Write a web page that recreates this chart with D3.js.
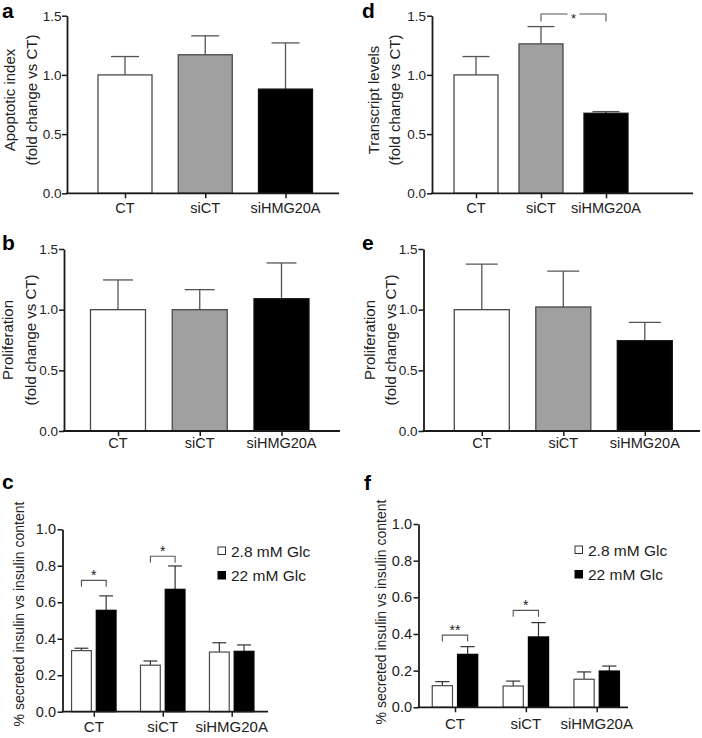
<!DOCTYPE html>
<html>
<head>
<meta charset="utf-8">
<script src="https://cdn.jsdelivr.net/npm/d3@7"></script>
<style>
  html, body { margin: 0; padding: 0; background: #fff; }
  svg { display: block; font-family: "Liberation Sans", Arial, Helvetica, sans-serif; }
</style>
</head>
<body>
<svg id="chart" width="702" height="738"></svg>
<script>
// ---------------- DATA ----------------
const categories = ["CT", "siCT", "siHMG20A"];
const foldTicks = [0, 0.5, 1.0, 1.5];
const insulinTicks = [0, 0.2, 0.4, 0.6, 0.8, 1.0];
const glcLabels = ["2.8 mM Glc", "22 mM Glc"];

// a: apoptotic index
const apoptoticMean = [1.0, 1.17, 0.88];
const apoptoticErr = [0.155, 0.16, 0.39];
// d: transcript levels
const transcriptMean = [1.0, 1.262, 0.676];
const transcriptErr = [0.155, 0.146, 0.014];
// b: proliferation
const prolifBMean = [1.0, 1.0, 1.09];
const prolifBErr = [0.245, 0.165, 0.295];
// e: proliferation
const prolifEMean = [1.0, 1.022, 0.744];
const prolifEErr = [0.376, 0.295, 0.152];
// c: insulin secretion
const lowGlcC = [0.335, 0.255, 0.327];
const lowErrC = [0.013, 0.023, 0.051];
const highGlcC = [0.556, 0.671, 0.331];
const highErrC = [0.079, 0.128, 0.035];
// f: insulin secretion
const lowGlcF = [0.118, 0.116, 0.153];
const lowErrF = [0.022, 0.027, 0.04];
const highGlcF = [0.289, 0.384, 0.198];
const highErrF = [0.042, 0.078, 0.027];

// significance brackets
const bracketD = [{from: "siCT", to: "siHMG20A", value: 1.514, label: "*"}];
const bracketC = [{cat: "CT", value: 0.72, label: "*"}, {cat: "siCT", value: 0.852, label: "*"}];
const bracketF = [{cat: "CT", value: 0.394, label: "**"}, {cat: "siCT", value: 0.529, label: "*"}];

// ---------------- DRAWING ----------------
const svg = d3.select("#chart");
const barFills = ["#ffffff", "#a0a0a0", "#000000"];
const AXIS = "#1a1a1a";
const EDGE = "#4a4a4a";

function panelLetter(txt, x, y) {
  svg.append("text").attr("x", x).attr("y", y)
    .attr("font-size", 21).attr("font-weight", "bold").attr("fill", "#000").text(txt);
}

function yLabel(lines, xs, yc, size) {
  lines.forEach((t, i) => {
    svg.append("text")
      .attr("transform", `translate(${xs[i]},${yc}) rotate(-90)`)
      .attr("text-anchor", "middle").attr("font-size", size).attr("fill", "#222").text(t);
  });
}

function drawYAxis(y, ax, ticks, size, pad) {
  const g = svg.append("g").attr("transform", `translate(${ax},0)`)
    .call(d3.axisLeft(y).tickValues(ticks).tickFormat(d3.format(".1f")).tickSize(5).tickSizeOuter(0).tickPadding(pad));
  g.select(".domain").attr("stroke", AXIS).attr("stroke-width", 1.8);
  g.selectAll(".tick line").attr("stroke", AXIS).attr("stroke-width", 1.5);
  g.selectAll(".tick text").attr("font-size", size).attr("fill", "#222")
    .attr("font-family", '"Liberation Sans", Arial, sans-serif');
}

function drawXAxis(x, y, ax, axEnd, labelY, size) {
  const g = svg.append("g").attr("transform", `translate(0,${y(0)})`)
    .call(d3.axisBottom(x).tickSize(5).tickSizeOuter(0).tickFormat(""));
  g.select(".domain").remove();
  g.selectAll(".tick line").attr("stroke", AXIS).attr("stroke-width", 1.5);
  svg.append("line").attr("x1", ax - 0.9).attr("x2", axEnd)
    .attr("y1", y(0)).attr("y2", y(0)).attr("stroke", AXIS).attr("stroke-width", 1.8);
  categories.forEach(c => {
    svg.append("text").attr("x", x(c)).attr("y", labelY).attr("text-anchor", "middle")
      .attr("font-size", size).attr("fill", "#222").text(c);
  });
}

function errorBar(cx, yTop, yBar, capW, color, width) {
  svg.append("line").attr("x1", cx).attr("x2", cx).attr("y1", yBar).attr("y2", yTop)
    .attr("stroke", color).attr("stroke-width", width);
  svg.append("line").attr("x1", cx - capW / 2).attr("x2", cx + capW / 2).attr("y1", yTop).attr("y2", yTop)
    .attr("stroke", color).attr("stroke-width", width);
}

function simplePanel(cfg) {
  const y = d3.scaleLinear().domain([0, 1.5]).range([cfg.yBottom, cfg.yTop]);
  const x = d3.scalePoint().domain(categories).range([cfg.cFirst, cfg.cLast]);
  categories.forEach((c, i) => {
    const v = cfg.mean[i], e = cfg.err[i];
    errorBar(x(c), y(v + e), y(v), cfg.capW, "#555", 1.3);
    svg.append("rect").attr("x", x(c) - cfg.bw / 2).attr("y", y(v))
      .attr("width", cfg.bw).attr("height", y(0) - y(v))
      .attr("fill", barFills[i]).attr("stroke", i === 2 ? "#111" : EDGE).attr("stroke-width", 1.3);
  });
  drawYAxis(y, cfg.ax, foldTicks, 13.5, cfg.pad);
  drawXAxis(x, y, cfg.ax, cfg.axEnd, cfg.labelY, 14.5);
  return {x, y};
}

function groupedPanel(cfg) {
  const y = d3.scaleLinear().domain([0, 1.0]).range([cfg.yBottom, cfg.yTop]);
  const x = d3.scalePoint().domain(categories).range([cfg.cFirst, cfg.cLast]);
  const sub = d3.scaleBand().domain([0, 1]).range([-cfg.gw / 2, cfg.gw / 2]).paddingInner(cfg.padIn);
  const series = [[cfg.low, cfg.lowErr], [cfg.high, cfg.highErr]];
  categories.forEach((c, i) => {
    series.forEach(([vals, errs], s) => {
      const v = vals[i], e = errs[i];
      const bx = x(c) + sub(s);
      const cx = bx + sub.bandwidth() / 2;
      errorBar(cx, y(v + e), y(v), sub.bandwidth() * 0.7, "#333", 1.2);
      svg.append("rect").attr("x", bx).attr("y", y(v))
        .attr("width", sub.bandwidth()).attr("height", y(0) - y(v))
        .attr("fill", s === 0 ? "#fff" : "#000").attr("stroke", s === 0 ? EDGE : "#000").attr("stroke-width", 1.2);
    });
  });
  cfg.brackets.forEach(b => {
    const x1 = x(b.cat) + sub(0) + sub.bandwidth() / 2;
    const x2 = x(b.cat) + sub(1) + sub.bandwidth() / 2;
    const yt = y(b.value);
    svg.append("path").attr("d", `M${x1},${yt + 6.5}V${yt}H${x2}V${yt + 6.5}`)
      .attr("fill", "none").attr("stroke", "#555").attr("stroke-width", 1.1);
    svg.append("text").attr("x", (x1 + x2) / 2).attr("y", yt - 0.5).attr("text-anchor", "middle")
      .attr("font-size", 14).attr("fill", "#222").text(b.label);
  });
  drawYAxis(y, cfg.ax, insulinTicks, 14.5, 1.5);
  drawXAxis(x, y, cfg.ax, cfg.axEnd, cfg.labelY, 15);
  glcLabels.forEach((t, k) => {
    const ly = cfg.legY + k * 24.5;
    svg.append("rect").attr("x", cfg.legX).attr("y", ly - 4).attr("width", 7.5).attr("height", 7.5)
      .attr("fill", k === 0 ? "#fff" : "#000").attr("stroke", k === 0 ? "#333" : "#000").attr("stroke-width", 1);
    svg.append("text").attr("x", cfg.legX + 13).attr("y", ly + 5.5)
      .attr("font-size", 15.5).attr("fill", "#222").text(t);
  });
  return {x, y};
}

// Panel a
panelLetter("a", 2, 18);
simplePanel({mean: apoptoticMean, err: apoptoticErr, yBottom: 193.3, yTop: 15.7,
  cFirst: 125, cLast: 285.5, bw: 54, capW: 28, ax: 67, pad: 0.5, axEnd: 339, labelY: 213});
yLabel(["Apoptotic index", "(fold change vs CT)"], [15, 36.5], 100, 15);

// Panel d
panelLetter("d", 362, 18);
const pd = simplePanel({mean: transcriptMean, err: transcriptErr, yBottom: 193.3, yTop: 15.7,
  cFirst: 476, cLast: 606, bw: 44, capW: 27, ax: 432, pad: 1, axEnd: 693, labelY: 213});
yLabel(["Transcript levels", "(fold change vs CT)"], [378.5, 399.5], 100, 15);
bracketD.forEach(b => {
  const x1 = pd.x(b.from), x2 = pd.x(b.to), yt = pd.y(b.value), xm = (x1 + x2) / 2;
  svg.append("path").attr("d", `M${x1},${yt + 7.5}V${yt}H${xm - 6}M${xm + 6},${yt}H${x2}V${yt + 7.5}`)
    .attr("fill", "none").attr("stroke", "#555").attr("stroke-width", 1.1);
  svg.append("text").attr("x", xm).attr("y", yt + 9).attr("text-anchor", "middle")
    .attr("font-size", 13).attr("fill", "#222").text(b.label);
});

// Panel b
panelLetter("b", 2, 250);
simplePanel({mean: prolifBMean, err: prolifBErr, yBottom: 431, yTop: 249,
  cFirst: 118, cLast: 281.5, bw: 55, capW: 30, ax: 64, pad: 1, axEnd: 340, labelY: 448});
yLabel(["Proliferation", "(fold change vs CT)"], [13, 35.5], 340, 15);

// Panel e
panelLetter("e", 362, 250);
simplePanel({mean: prolifEMean, err: prolifEErr, yBottom: 431, yTop: 249,
  cFirst: 481.8, cLast: 644.8, bw: 55, capW: 32, ax: 423.5, pad: 1, axEnd: 700, labelY: 448});
yLabel(["Proliferation", "(fold change vs CT)"], [375, 395.5], 340, 15);

// Panel c
panelLetter("c", 2, 489);
groupedPanel({low: lowGlcC, lowErr: lowErrC, high: highGlcC, highErr: highErrC,
  yBottom: 711.7, yTop: 529.3, cFirst: 93.8, cLast: 231.7, gw: 44.5, padIn: 0.2,
  ax: 62.5, axEnd: 268, labelY: 732, brackets: bracketC, legX: 218, legY: 551});
yLabel(["% secreted insulin vs insulin content"], [24], 614, 14);

// Panel f
panelLetter("f", 364, 490);
groupedPanel({low: lowGlcF, lowErr: lowErrF, high: highGlcF, highErr: highErrF,
  yBottom: 707.3, yTop: 524, cFirst: 455, cLast: 596.7, gw: 45.5, padIn: 0.2,
  ax: 418.5, axEnd: 628, labelY: 729, brackets: bracketF, legX: 575, legY: 550});
yLabel(["% secreted insulin vs insulin content"], [386], 612, 14);
</script>
</body>
</html>
